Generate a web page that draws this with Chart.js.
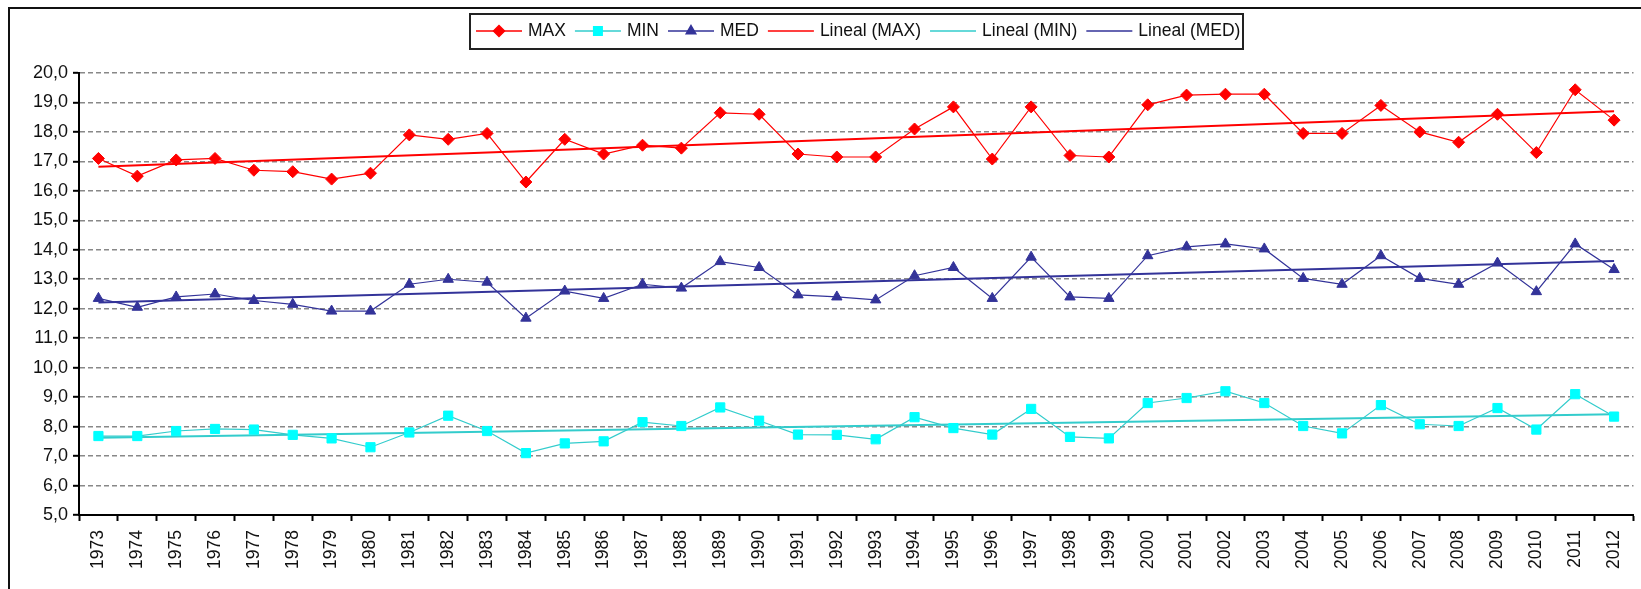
<!DOCTYPE html>
<html>
<head>
<meta charset="utf-8">
<script src="https://cdn.jsdelivr.net/npm/chart.js@4/dist/chart.umd.min.js"></script>
<style>
  html, body { margin:0; padding:0; background:#fff; }
  #wrap { position:relative; width:1641px; height:589px; overflow:hidden; }
  #frame { position:absolute; left:8px; top:7px; width:1700px; height:700px; border:2px solid #111; box-sizing:border-box; }
  #c { position:absolute; left:0; top:0; }
</style>
</head>
<body>
<div id="wrap">
  <div id="frame"></div>
  <canvas id="c" width="1641" height="589"></canvas>
</div>
<script>
// years on the x axis
const YEARS = ['1973','1974','1975','1976','1977','1978','1979','1980','1981','1982','1983','1984','1985','1986','1987','1988','1989','1990','1991','1992','1993','1994','1995','1996','1997','1998','1999','2000','2001','2002','2003','2004','2005','2006','2007','2008','2009','2010','2011','2012'];

// yearly values
const MAX = [17.1,16.5,17.05,17.1,16.7,16.65,16.4,16.6,17.9,17.75,17.95,16.3,17.75,17.25,17.55,17.45,18.65,18.6,17.25,17.15,17.15,18.1,18.85,17.08,18.85,17.2,17.15,18.92,19.25,19.28,19.28,17.95,17.95,18.9,18.0,17.65,18.6,17.3,19.43,18.4];
const MIN = [7.68,7.68,7.85,7.92,7.9,7.72,7.6,7.3,7.8,8.37,7.85,7.1,7.43,7.5,8.15,8.02,8.65,8.2,7.73,7.72,7.57,8.32,7.95,7.73,8.6,7.65,7.6,8.8,8.97,9.2,8.8,8.02,7.77,8.73,8.08,8.02,8.63,7.9,9.1,8.34];
const MED = [12.35,12.05,12.4,12.5,12.28,12.15,11.92,11.92,12.83,13.0,12.9,11.68,12.6,12.35,12.83,12.7,13.6,13.4,12.47,12.4,12.3,13.12,13.4,12.35,13.75,12.4,12.35,13.8,14.1,14.2,14.03,13.03,12.83,13.8,13.03,12.83,13.55,12.58,14.2,13.33];

// trend line ends (first year, last year)
const TREND_MAX = [16.82, 18.7];
const TREND_MIN = [7.62, 8.42];
const TREND_MED = [12.21, 13.62];

const Y_MIN = 5, Y_MAX = 20;

const ends = (pair) => YEARS.map((_, i) => i === 0 ? pair[0] : (i === YEARS.length - 1 ? pair[1] : null));
const FONT = "'Liberation Sans', Arial, sans-serif";

const datasets = [
  { label:'MAX', data:MAX, borderColor:'#ff0000', backgroundColor:'#ff0000', borderWidth:1.2,
    pointStyle:'rectRot', pointRadius:6, pointBorderWidth:1, pointBorderColor:'#ff0000', pointBackgroundColor:'#ff0000' },
  { label:'MIN', data:MIN, borderColor:'#33cccc', backgroundColor:'#00ffff', borderWidth:1.2,
    pointStyle:'rect', pointRadius:6.5, pointBorderWidth:1, pointBorderColor:'#00ffff', pointBackgroundColor:'#00ffff' },
  { label:'MED', data:MED, borderColor:'#333399', backgroundColor:'#333399', borderWidth:1.2,
    pointStyle:'triangle', pointRadius:6, pointBorderWidth:1, pointBorderColor:'#333399', pointBackgroundColor:'#333399' },
  { label:'Lineal (MAX)', data:ends(TREND_MAX), borderColor:'#ff0000', borderWidth:2, pointRadius:0, spanGaps:true },
  { label:'Lineal (MIN)', data:ends(TREND_MIN), borderColor:'#33cccc', borderWidth:2, pointRadius:0, spanGaps:true },
  { label:'Lineal (MED)', data:ends(TREND_MED), borderColor:'#333399', borderWidth:2, pointRadius:0, spanGaps:true },
];

// excel-like boxed legend, line + marker for each series
const boxLegend = {
  id:'boxLegend',
  afterDraw(chart){
    const ctx = chart.ctx;
    ctx.save();
    ctx.strokeStyle = '#222'; ctx.lineWidth = 2;
    ctx.strokeRect(470, 14, 773, 35);
    ctx.font = '17.5px ' + FONT;
    ctx.textBaseline = 'middle';
    let x = 476; const y = 31;
    chart.data.datasets.forEach(ds => {
      ctx.strokeStyle = ds.borderColor; ctx.lineWidth = 1.5;
      ctx.beginPath(); ctx.moveTo(x, y); ctx.lineTo(x + 46, y); ctx.stroke();
      if (ds.pointRadius > 0 && Chart.helpers && Chart.helpers.drawPoint) {
        ctx.fillStyle = ds.pointBackgroundColor; ctx.strokeStyle = ds.pointBorderColor;
        Chart.helpers.drawPoint(ctx, { pointStyle:ds.pointStyle, radius:ds.pointRadius - 0.5, rotation:0, borderWidth:1 }, x + 23, y);
      }
      x += 52;
      ctx.fillStyle = '#111';
      ctx.fillText(ds.label, x, y);
      x += ctx.measureText(ds.label).width + 9;
    });
    ctx.restore();
  }
};

new Chart(document.getElementById('c'), {
  type:'line',
  data:{ labels:YEARS, datasets },
  options:{
    responsive:false,
    animation:false,
    layout:{ padding:{ top:73, right:0, left:0, bottom:0 } },
    plugins:{ legend:{ display:false }, tooltip:{ enabled:false } },
    elements:{ line:{ tension:0 } },
    scales:{
      x:{
        offset:true,
        afterFit: s => { s.height = 74; s.paddingRight = 0; s.paddingLeft = 0; },
        border:{ color:'#000', width:2 },
        grid:{ offset:true, drawOnChartArea:false, drawTicks:true, tickLength:6, tickColor:'#000', tickWidth:2 },
        ticks:{ minRotation:90, maxRotation:90, autoSkip:false, padding:9, color:'#111', font:{ family:FONT, size:17.5 } }
      },
      y:{
        min:Y_MIN, max:Y_MAX,
        afterFit: s => { s.width = 79; },
        border:{ color:'#000', width:2, dash:[5,3] },
        grid:{ color:'#888', lineWidth:1.6, tickColor:'#000', tickWidth:2, tickLength:6, tickBorderDash:[] },
        ticks:{ stepSize:1, padding:5, color:'#111', font:{ family:FONT, size:18 },
          callback: v => Number(v).toFixed(1).replace('.', ',') }
      }
    }
  },
  plugins:[boxLegend]
});
</script>
</body>
</html>
